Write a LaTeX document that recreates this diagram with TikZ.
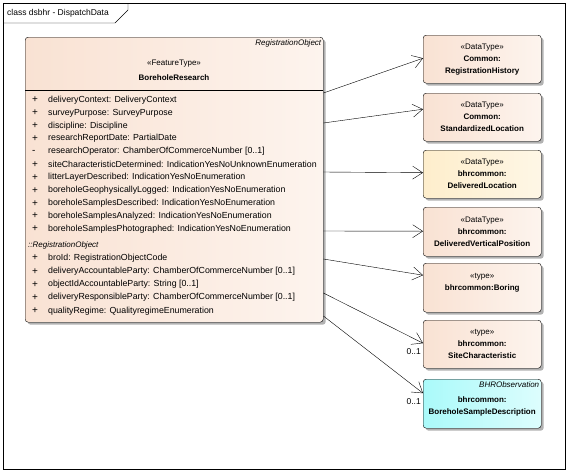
\documentclass[tikz,border=0pt]{standalone}
\usepackage{fontspec}
\setmainfont{Liberation Sans}
\usetikzlibrary{arrows.meta,shadows,positioning}

\definecolor{classfill}{RGB}{249,226,211}
\definecolor{classlight}{RGB}{253,244,238}
\definecolor{locfill}{RGB}{254,238,204}
\definecolor{obsfill}{RGB}{170,250,250}

\begin{document}
\begin{tikzpicture}[x=1pt,y=-1pt,
	umlbox/.style={draw,rounded corners=3pt,anchor=north west,inner sep=0pt,
		minimum width=118,minimum height=48,align=center,font=\fontsize{8}{12}\selectfont,
		drop shadow={shadow xshift=2.5pt,shadow yshift=-2.5pt,fill=black!30,opacity=1}},
	dtbox/.style={umlbox,left color=classfill,right color=classlight},
	attr/.style={anchor=west,inner sep=0pt,font=\fontsize{8.8}{10}\selectfont},
	assoc/.style={-{Straight Barb[length=10pt,width=13pt]}},
	mult/.style={anchor=north east,inner xsep=2pt,inner ysep=5pt,font=\fontsize{8.5}{10}\selectfont}]
	\useasboundingbox (0,0) rectangle (568,475);
	
	\draw (3,3) rectangle (565,469);
	\draw (3,23) -- (115,23) -- (128,10) -- (128,3);
	\node (ttl) [anchor=west,inner sep=0pt,font=\fontsize{8.5}{10}\selectfont] at (7,13) {class dsbhr - DispatchData};
	
	\node (bhr) [umlbox,minimum width=298,minimum height=285,left color=classfill,right color=classlight] at (25,37) {};
	\node [anchor=north east,inner sep=2pt,font=\fontsize{8}{10}\itshape] at (bhr.north east) {RegistrationObject};
	\node [font=\fontsize{8}{10}\selectfont] at (174,64) {«FeatureType»};
	\node [font=\fontsize{8}{10}\bfseries] at (174,78) {BoreholeResearch};
	\draw ([yshift=-53pt]bhr.north west) -- ([yshift=-53pt]bhr.north east);
	
	\foreach \v/\a [count=\i from 0] in {
		+/deliveryContext: DeliveryContext,
		+/surveyPurpose: SurveyPurpose,
		+/discipline: Discipline,
		+/researchReportDate: PartialDate,
		-/researchOperator: ChamberOfCommerceNumber [0..1],
		+/siteCharacteristicDetermined: IndicationYesNoUnknownEnumeration,
		+/litterLayerDescribed: IndicationYesNoEnumeration,
		+/boreholeGeophysicallyLogged: IndicationYesNoEnumeration,
		+/boreholeSamplesDescribed: IndicationYesNoEnumeration,
		+/boreholeSamplesAnalyzed: IndicationYesNoEnumeration,
		+/boreholeSamplesPhotographed: IndicationYesNoEnumeration}{
		\node [attr,font=\fontsize{10}{10}\selectfont] at (32,{100+12.9*\i}) {\v};
		\node (a\i) [attr] at (48,{100+12.9*\i}) {\a};
	}
	\node (inh) [attr,font=\fontsize{8}{10}\itshape] at (28,245) {::RegistrationObject};
	\foreach \v/\a [count=\i from 0] in {
		+/broId: RegistrationObjectCode,
		+/deliveryAccountableParty: ChamberOfCommerceNumber [0..1],
		+/objectIdAccountableParty: String [0..1],
		+/deliveryResponsibleParty: ChamberOfCommerceNumber [0..1],
		+/qualityRegime: QualityregimeEnumeration}{
		\node [attr,font=\fontsize{10}{10}\selectfont] at (32,{258+13.2*\i}) {\v};
		\node (r\i) [attr] at (48,{258+13.2*\i}) {\a};
	}
	
	\node (reghist) [dtbox] at (423,35) {«DataType»\\\textbf{Common:}\\\textbf{RegistrationHistory}};
	\node (stdloc) [dtbox] at (423,93) {«DataType»\\\textbf{Common:}\\\textbf{StandardizedLocation}};
	\node (delloc) [umlbox,left color=locfill,right color=locfill!50!white] at (423,150) {«DataType»\\\textbf{bhrcommon:}\\\textbf{DeliveredLocation}};
	\node (delvert) [dtbox,minimum height=49] at (423,207) {«DataType»\\\textbf{bhrcommon:}\\\textbf{DeliveredVerticalPosition}};
	\node (boring) [dtbox,minimum height=49] at (423,263) {«type»\\\textbf{bhrcommon:Boring}\\\mbox{}};
	\node (sitechar) [dtbox] at (423,320) {«type»\\\textbf{bhrcommon:}\\\textbf{SiteCharacteristic}};
	\node (sampdesc) [umlbox,minimum height=49,left color=obsfill,right color=obsfill!40!white] at (423,379) {\mbox{}\\\textbf{bhrcommon:}\\\textbf{BoreholeSampleDescription}};
	\node [anchor=north east,inner sep=2pt,font=\fontsize{8}{10}\itshape] at (sampdesc.north east) {BHRObservation};
	
	\draw [assoc] ([yshift=-56pt]bhr.north east) -- ([yshift=1pt]reghist.west);
	\draw [assoc] ([yshift=-86pt]bhr.north east) -- ([yshift=8pt]stdloc.west);
	\draw [assoc] ([yshift=-135pt]bhr.north east) -- ([yshift=1.5pt]delloc.west);
	\draw [assoc] ([yshift=-194pt]bhr.north east) -- ([yshift=0.5pt]delvert.west);
	\draw [assoc] ([yshift=-222pt]bhr.north east) -- ([yshift=12.5pt]boring.west);
	\draw [assoc] ([yshift=-256pt]bhr.north east) -- ([yshift=1pt]sitechar.west) node [mult] {0..1};
	\draw [assoc] ([yshift=-279pt]bhr.north east) -- ([yshift=10.5pt]sampdesc.west) node [mult] {0..1};
	
\end{tikzpicture}
\end{document}
